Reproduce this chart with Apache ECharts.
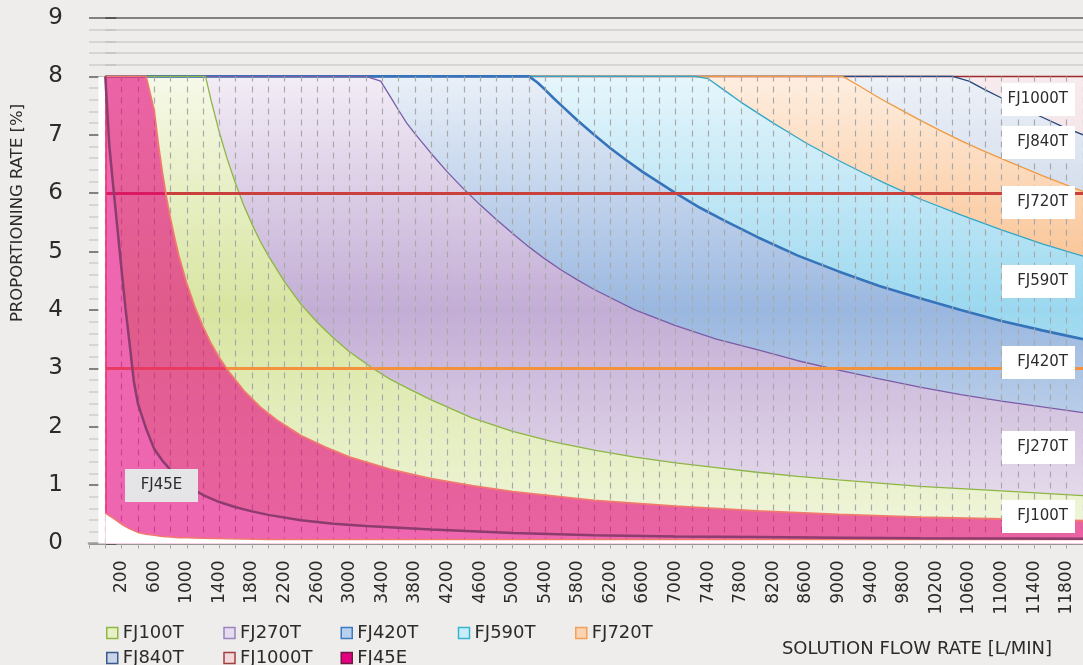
<!DOCTYPE html>
<html>
<head>
<meta charset="utf-8">
<script src="https://cdn.jsdelivr.net/npm/echarts@6/dist/echarts.min.js"></script>
<style>
html,body{margin:0;padding:0;background:#eeedeb;}
#chart{width:1083px;height:665px;}
</style>
</head>
<body>
<div id="chart"></div>
<script>
// ---------------- DATA ----------------
const seriesNames = ['FJ100T','FJ270T','FJ420T','FJ590T','FJ720T','FJ840T','FJ1000T','FJ45E'];
const xTickLabels = [200,600,1000,1400,1800,2200,2600,3000,3400,3800,4200,4600,5000,5400,5800,6200,6600,7000,7400,7800,8200,8600,9000,9400,9800,10200,10600,11000,11400,11800];
const yTicks = [0,1,2,3,4,5,6,7,8,9];

// upper limit curves [flow L/min, rate %]
const fj100T = [[0,8],[1230,8],[1300,7.58],[1400,7.04],[1500,6.57],[1600,6.16],[1700,5.79],[1800,5.47],[1900,5.18],[2000,4.93],[2200,4.48],[2400,4.1],[2600,3.79],[2800,3.52],[3000,3.28],[3250,3.03],[3500,2.81],[3750,2.63],[4000,2.46],[4500,2.15],[5000,1.92],[5500,1.74],[6000,1.6],[6500,1.48],[7000,1.38],[7500,1.3],[8000,1.22],[8500,1.15],[9000,1.09],[10000,0.98],[11000,0.9],[12000,0.82]];
const fj270T = [[0,8],[3200,8],[3380,7.92],[3500,7.65],[3600,7.42],[3700,7.2],[3800,7.02],[4000,6.68],[4200,6.36],[4400,6.07],[4600,5.8],[4800,5.55],[5000,5.31],[5200,5.08],[5400,4.87],[5600,4.68],[5800,4.51],[6000,4.35],[6500,4.0],[7000,3.73],[7500,3.5],[8000,3.32],[8500,3.13],[9000,2.97],[9500,2.82],[10000,2.68],[10500,2.55],[11000,2.44],[11500,2.34],[12000,2.24]];
const fj420T = [[0,8],[5200,8],[5300,7.9],[5400,7.77],[5500,7.63],[5600,7.5],[5800,7.24],[6000,7.0],[6200,6.77],[6400,6.56],[6600,6.36],[6800,6.18],[7000,6.0],[7300,5.75],[7600,5.53],[8000,5.25],[8500,4.93],[9000,4.66],[9500,4.41],[10000,4.2],[10500,4.0],[11000,3.81],[11500,3.65],[12000,3.5]];
const fj590T = [[0,8],[7240,8],[7400,7.96],[7600,7.76],[7800,7.56],[8000,7.38],[8200,7.2],[8400,7.03],[8600,6.86],[8800,6.71],[9000,6.56],[9300,6.35],[9600,6.15],[10000,5.9],[10500,5.63],[11000,5.37],[11500,5.13],[12000,4.92]];
const fj720T = [[0,8],[9050,8],[9250,7.84],[9500,7.63],[9750,7.44],[10000,7.25],[10250,7.07],[10500,6.9],[10750,6.74],[11000,6.59],[11500,6.3],[12000,6.03]];
const fj840T = [[0,8],[10400,8],[10600,7.92],[10800,7.77],[11000,7.63],[11250,7.46],[11500,7.3],[11750,7.14],[12000,7.0]];
const fj1000T = [[0,8],[12000,8]];

// minimum line (lower bound of the T ranges)
const minLine = [[0,8],[50,6.8],[100,6.08],[150,5.38],[200,4.68],[250,4.0],[300,3.4],[350,2.78],[400,2.4],[450,2.18],[500,1.97],[600,1.62],[700,1.42],[800,1.26],[900,1.12],[1000,1.01],[1100,0.91],[1200,0.83],[1400,0.71],[1600,0.62],[1800,0.55],[2000,0.49],[2400,0.4],[2800,0.34],[3200,0.3],[3600,0.27],[4000,0.24],[5000,0.18],[6000,0.14],[7000,0.12],[8000,0.11],[9000,0.1],[10000,0.09],[11000,0.085],[12000,0.08]];

// FJ45E range
const fj45eUpper = [[0,8],[500,8],[600,7.42],[650,6.85],[700,6.36],[750,5.93],[800,5.56],[850,5.24],[900,4.94],[1000,4.45],[1100,4.05],[1200,3.71],[1300,3.42],[1400,3.18],[1500,2.97],[1700,2.62],[1900,2.34],[2100,2.12],[2400,1.85],[2700,1.65],[3000,1.48],[3500,1.27],[4000,1.11],[4500,0.99],[5000,0.89],[6000,0.74],[7000,0.64],[8000,0.56],[9000,0.5],[10000,0.45],[11000,0.42],[12000,0.39]];
const fj45eLower = [[0,0.52],[100,0.43],[200,0.33],[300,0.25],[400,0.19],[500,0.16],[600,0.14],[700,0.12],[800,0.11],[900,0.1],[1000,0.1],[1200,0.09],[1500,0.08],[2000,0.07],[12000,0.07]];

// reference lines (%)
const refLineValues = [6, 3];

// ---------------- STYLES ----------------
const FONT = 'DejaVu Sans';
const TXT = '#2b2b2b';
const SALMON = '#f07a6e';
const refLineColors = ['#c9403d', '#f3923c'];
const bandStyles = {
  FJ1000T: {line:'#a0282c', w:1.5, c:['#f7ebed','#f0dadd','#f3e4e6']},
  FJ840T:  {line:'#25487d', w:1.3, c:['#edf1f8','#bccbe2','#e4eaf4']},
  FJ720T:  {line:'#f29a3f', w:1.3, c:['#feeee0','#f9bb85','#fde5d0']},
  FJ590T:  {line:'#2fa7c7', w:1.3, c:['#e6f6fc','#9bd8f0','#def1f9']},
  FJ420T:  {line:'#3574ba', w:2.6, c:['#eaf0f8','#9ab7e0','#e0e9f5']},
  FJ270T:  {line:'#7b5ca6', w:1.3, c:['#f3edf6','#c3add5','#ede5f1']},
  FJ100T:  {line:'#8db543', w:1.3, c:['#f6f9e8','#d8e5a0','#f1f6de']}
};
const legendIcons = {
  FJ100T:  ['#e8f0c8','#8fb843'],
  FJ270T:  ['#e6dcef','#9b84c0'],
  FJ420T:  ['#b8cfee','#3a7bc4'],
  FJ590T:  ['#c8ecf8','#3ab4d4'],
  FJ720T:  ['#fcd3b0','#f2a05a'],
  FJ840T:  ['#c8d4e8','#3a5a8c'],
  FJ1000T: ['#f2d8da','#a04040'],
  FJ45E:   ['#e4007f','#6d1942']
};
// label box layout (pixels)
const rightLabels = [['FJ1000T',83],['FJ840T',126],['FJ720T',186],['FJ590T',265],['FJ420T',346],['FJ270T',431],['FJ100T',500]];

function grad(c) {
  return {type:'linear', x:0, y:0, x2:0, y2:1,
    colorStops:[{offset:0,color:c[0]},{offset:0.5,color:c[1]},{offset:1,color:c[2]}]};
}

const bandData = {FJ1000T:fj1000T, FJ840T:fj840T, FJ720T:fj720T, FJ590T:fj590T, FJ420T:fj420T, FJ270T:fj270T, FJ100T:fj100T};
const series = [];
['FJ1000T','FJ840T','FJ720T','FJ590T','FJ420T','FJ270T','FJ100T'].forEach((name, i) => {
  const st = bandStyles[name];
  const s = {
    name: name, type:'line', data: bandData[name], symbol:'none', z:2,
    lineStyle:{color:st.line, width:st.w}, itemStyle:{color:st.line},
    areaStyle:{color:grad(st.c), opacity:1}, silent:true
  };
  if (i === 0) {
    s.markArea = {silent:true, z:1, itemStyle:{color:'#ffffff'},
      data:[[{coord:[-85,0]},{coord:[12000,8]}]]};
  }
  series.push(s);
});

// vertical dashed lines and horizontal reference lines
const mlData = [];
for (let v = 0; v <= 12000; v += 200) {
  mlData.push([{coord:[v,0], lineStyle:{color:'#a9a9a9', width:1.2, type:[6,5]}}, {coord:[v,8]}]);
}
refLineValues.forEach((y, i) => {
  mlData.push([{coord:[0,y], lineStyle:{color:refLineColors[i], width:3, type:'solid'}}, {coord:[12000,y]}]);
});

series.push({
  name:'minMask', type:'line', data:minLine, symbol:'none', z:3, silent:true,
  lineStyle:{width:0}, areaStyle:{color:'#ffffff', opacity:1},
  markLine:{silent:true, z:4, symbol:['none','none'], label:{show:false}, animation:false, data:mlData}
});

series.push({
  name:'FJ45E', type:'line', symbol:'none', z:5, silent:true,
  data: fj45eUpper,
  lineStyle:{color:SALMON, width:1.8}, itemStyle:{color:'#e4007f'},
  areaStyle:{color:'rgba(228,0,124,0.6)', opacity:1}
});
series.push({
  name:'FJ45E-low', type:'line', symbol:'none', z:5, silent:true,
  data: fj45eLower,
  lineStyle:{color:SALMON, width:1.5},
  areaStyle:{color:'#ffffff', opacity:1},
  markLine:{silent:true, z:5, symbol:['none','none'], label:{show:false}, animation:false,
    lineStyle:{color:SALMON, width:1.5, type:'solid'},
    data:[[{coord:[fj45eLower[0][0], fj45eLower[0][1]]},{coord:[fj45eUpper[0][0], fj45eUpper[0][1]]}]]}
});
series.push({
  name:'minLine', type:'line', data:minLine, symbol:'none', z:6, silent:true,
  lineStyle:{color:'#8c3c6e', width:2.5}
});

const graphics = [];
rightLabels.forEach(([t, y]) => {
  graphics.push({type:'rect', z:100, shape:{x:1002, y:y, width:73, height:33}, style:{fill:'#ffffff'}});
  graphics.push({type:'text', z:101, x:1068, y:y+16.5, style:{text:t, fill:TXT, font:'15px "DejaVu Sans"', textAlign:'right', textVerticalAlign:'middle'}});
});
graphics.push({type:'rect', z:100, shape:{x:125, y:469, width:73, height:33}, style:{fill:'#e5e5e8'}});
graphics.push({type:'text', z:101, x:161.5, y:485.5, style:{text:'FJ45E', fill:TXT, font:'15px "DejaVu Sans"', textAlign:'center', textVerticalAlign:'middle'}});
graphics.push({type:'text', z:101, x:18, y:213, rotation:Math.PI/2, style:{text:'PROPORTIONING RATE [%]', fill:TXT, font:'16.5px "DejaVu Sans"', textAlign:'center', textVerticalAlign:'middle'}});
graphics.push({type:'text', z:101, x:917, y:649, style:{text:'SOLUTION FLOW RATE [L/MIN]', fill:TXT, font:'18px "DejaVu Sans"', textAlign:'center', textVerticalAlign:'middle'}});

const chart = echarts.init(document.getElementById('chart'), null, {renderer:'canvas'});
chart.setOption({
  backgroundColor:'#eeedeb',
  animation:false,
  textStyle:{fontFamily:FONT},
  grid:{left:89, right:0, top:18, bottom:121.5, containLabel:false},
  xAxis:{
    type:'value', min:-200, max:12000, interval:200,
    splitLine:{show:false},
    axisLine:{show:true, lineStyle:{color:'#9c9c9c', width:2.5}},
    axisTick:{show:true, length:5, lineStyle:{color:'#a8a8a8', width:1}},
    axisLabel:{rotate:90, margin:17, fontSize:17, color:TXT, fontFamily:FONT,
      formatter: v => xTickLabels.indexOf(v) >= 0 ? String(v) : ''}
  },
  yAxis:{
    type:'value', min:yTicks[0], max:yTicks[yTicks.length-1], interval:1,
    axisLine:{show:false},
    axisTick:{show:true, inside:true, length:11, lineStyle:{color:'#4a4a4a', width:1.5}},
    minorTick:{show:true, splitNumber:5, length:11, lineStyle:{color:'#c2c2c2', width:1.5}},
    splitLine:{show:true, lineStyle:{color:'#5c5c5c', width:1.5}},
    minorSplitLine:{show:true, lineStyle:{color:'#cdcdcd', width:1.5}},
    axisLabel:{fontSize:23, color:TXT, margin:26, fontFamily:FONT}
  },
  legend:{
    left:106, top:624, width:600, padding:0, itemWidth:11, itemHeight:11, itemGap:7,
    selectedMode:false,
    textStyle:{fontSize:18, color:TXT, width:93.5, lineHeight:18, fontFamily:FONT},
    data: seriesNames.map(n => ({name:n, icon:'rect',
      itemStyle:{color:legendIcons[n][0], borderColor:legendIcons[n][1], borderWidth:1.5}}))
  },
  graphic: graphics,
  series: series
});
</script>
</body>
</html>
